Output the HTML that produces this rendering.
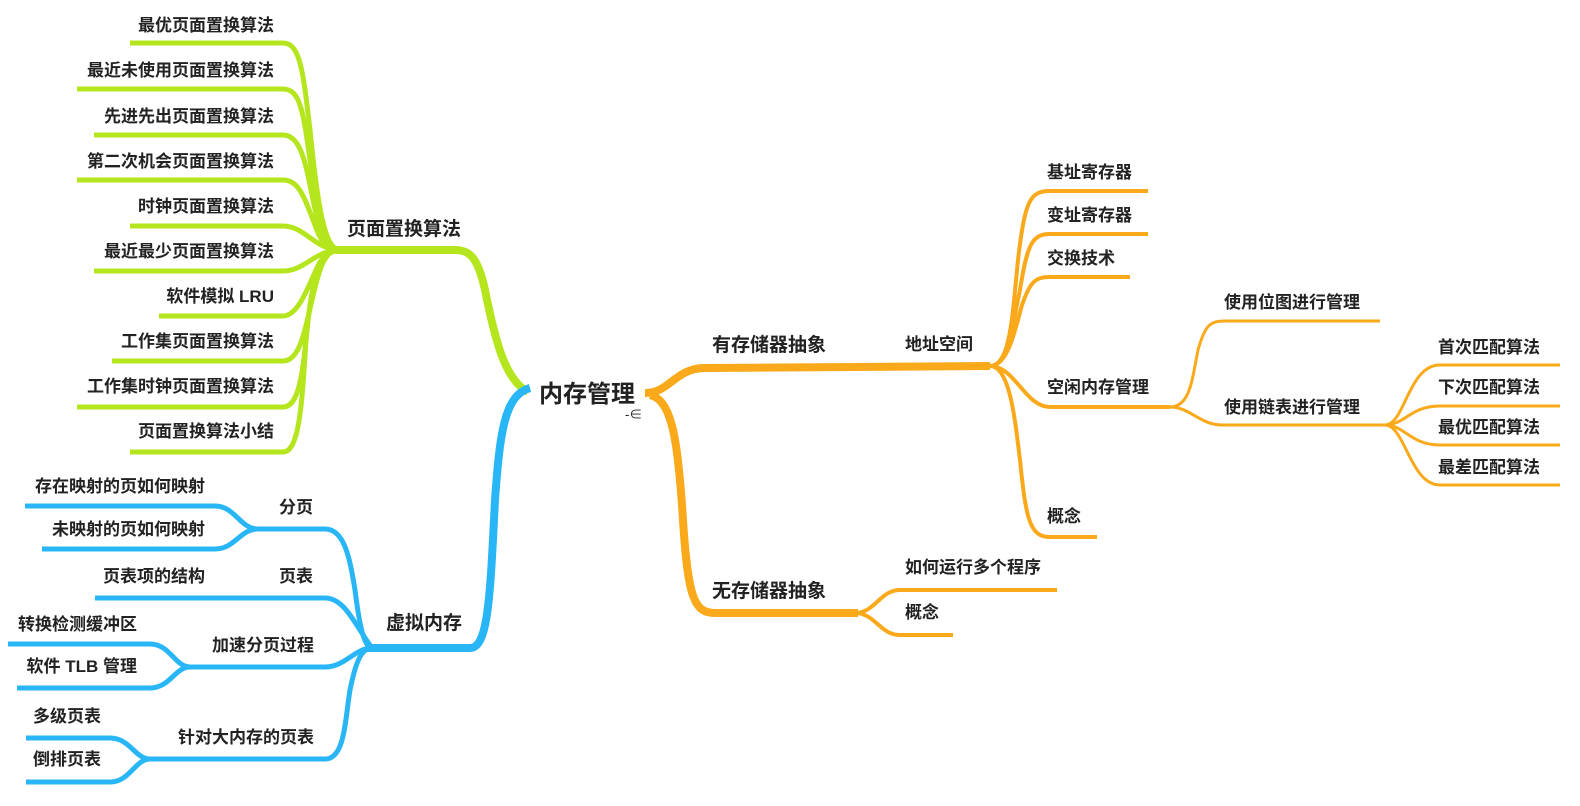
<!DOCTYPE html>
<html><head><meta charset="utf-8"><style>
html,body{margin:0;padding:0;background:#fff;}
svg{display:block}
text{font-family:"Liberation Sans","Noto Sans CJK SC",sans-serif;font-weight:bold;font-size:17px;fill:#222;}
</style></head><body>
<svg width="1580" height="806" viewBox="0 0 1580 806" xmlns="http://www.w3.org/2000/svg">
<g fill="none" stroke-linecap="butt">
<!-- green -->
<g stroke="#B5E61D">
<path d="M528,392 C505,380 495,340 485,290 C478,258 470,250 455,250 L335,250" stroke-width="8"/>
<g stroke-width="5">
<path d="M130,43 L283,43 C300,43 303,70 310,130 C318,210 325,250 340,250"/>
<path d="M77,89 L283,89 C300,89 303,110 310,160 C318,220 325,250 340,250"/>
<path d="M94,135 L283,135 C300,135 305,160 312,195 C320,235 325,250 340,250"/>
<path d="M77,180 L283,180 C300,180 305,200 315,225 C322,245 328,250 340,250"/>
<path d="M130,226 L283,226 C305,226 315,250 340,250"/>
<path d="M94,271 L283,271 C305,271 315,250 340,250"/>
<path d="M159,316 L283,316 C300,316 310,280 320,262 C328,252 332,250 340,250"/>
<path d="M112,361 L283,361 C300,361 305,330 312,300 C320,265 325,250 340,250"/>
<path d="M77,407 L283,407 C300,407 303,370 308,320 C314,270 322,250 340,250"/>
<path d="M130,452 L283,452 C300,452 302,400 306,340 C312,275 320,250 340,250"/>
</g>
</g>
<!-- blue -->
<g stroke="#29B6F6">
<path d="M530,388 C505,395 500,430 495,500 C490,600 488,648 470,648 L365,648" stroke-width="8"/>
<g stroke-width="5">
<path d="M258,529 L325,529 C345,529 350,560 355,590 C360,630 365,648 372,648"/>
<path d="M95,598 L325,598 C345,598 355,625 372,648"/>
<path d="M190,667 L325,667 C345,667 355,648 372,648"/>
<path d="M150,759 L325,759 C345,759 345,720 350,690 C356,660 362,648 372,648"/>
<path d="M25,506 L215,506 C235,506 240,529 258,529 C240,529 235,549 215,549 L42,549"/>
<path d="M8,644 L150,644 C170,644 175,667 190,667 C175,667 170,688 150,688 L17,688"/>
<path d="M26,738 L110,738 C130,738 135,759 150,759 C135,759 130,782 110,782 L26,782"/>
</g>
</g>
<!-- orange -->
<g stroke="#F9A91A">
<path d="M645,393 C670,393 675,368 705,368 L990,366" stroke-width="8"/>
<path d="M650,395 C672,400 678,440 683,520 C688,600 695,613 715,613 L858,613" stroke-width="8"/>
<g stroke-width="4">
<path d="M990,366 C1010,366 1012,320 1018,260 C1025,200 1030,191 1050,191 L1148,191"/>
<path d="M990,366 C1010,366 1013,320 1020,290 C1027,245 1032,234 1050,234 L1148,234"/>
<path d="M990,366 C1008,366 1015,330 1022,305 C1030,282 1035,277 1050,277 L1130,277"/>
<path d="M990,366 C1015,366 1025,407 1050,407 L1170,407"/>
<path d="M990,366 C1010,366 1015,420 1020,460 C1026,520 1030,537 1050,537 L1097,537"/>
<path d="M855,613 C875,613 880,590 900,590 L1057,590"/>
<path d="M855,613 C875,613 880,635 900,635 L953,635"/>
<path d="M1170,407 C1190,407 1192,380 1198,350 C1205,325 1210,321 1225,321 L1380,321" stroke-width="3"/>
<path d="M1170,407 C1190,407 1200,425 1222,425 L1385,425" stroke-width="3"/>
<path d="M1385,425 C1405,425 1408,365 1440,365 L1560,365" stroke-width="3"/>
<path d="M1385,425 C1405,425 1410,406 1440,406 L1560,406" stroke-width="3"/>
<path d="M1385,425 C1405,425 1410,445 1440,445 L1560,445" stroke-width="3"/>
<path d="M1385,425 C1405,425 1410,485 1440,485 L1560,485" stroke-width="3"/>
</g>
</g>
</g>
<g>
<text x="539" y="402" style="font-size:24px">内存管理</text>
<text x="625" y="419" style="font-size:13px;font-weight:normal">-∈</text>
<g text-anchor="end">
<text x="274" y="31">最优页面置换算法</text>
<text x="274" y="76">最近未使用页面置换算法</text>
<text x="274" y="122">先进先出页面置换算法</text>
<text x="274" y="167">第二次机会页面置换算法</text>
<text x="274" y="212">时钟页面置换算法</text>
<text x="274" y="257">最近最少页面置换算法</text>
<text x="274" y="302">软件模拟 LRU</text>
<text x="274" y="347">工作集页面置换算法</text>
<text x="274" y="392">工作集时钟页面置换算法</text>
<text x="274" y="437">页面置换算法小结</text>
<text x="205" y="492">存在映射的页如何映射</text>
<text x="205" y="535">未映射的页如何映射</text>
<text x="313" y="513">分页</text>
<text x="313" y="582">页表</text>
<text x="205" y="582">页表项的结构</text>
<text x="314" y="651">加速分页过程</text>
<text x="137" y="630">转换检测缓冲区</text>
<text x="137" y="672">软件 TLB 管理</text>
<text x="101" y="722">多级页表</text>
<text x="101" y="765">倒排页表</text>
<text x="314" y="743">针对大内存的页表</text>
</g>
<text x="347" y="235" style="font-size:19px">页面置换算法</text>
<text x="386" y="629" style="font-size:19px">虚拟内存</text>
<text x="712" y="351" style="font-size:19px">有存储器抽象</text>
<text x="712" y="597" style="font-size:19px">无存储器抽象</text>
<text x="905" y="350">地址空间</text>
<text x="1047" y="178">基址寄存器</text>
<text x="1047" y="221">变址寄存器</text>
<text x="1047" y="264">交换技术</text>
<text x="1047" y="393">空闲内存管理</text>
<text x="1047" y="522">概念</text>
<text x="905" y="573">如何运行多个程序</text>
<text x="905" y="618">概念</text>
<text x="1224" y="308">使用位图进行管理</text>
<text x="1224" y="413">使用链表进行管理</text>
<text x="1438" y="353">首次匹配算法</text>
<text x="1438" y="393">下次匹配算法</text>
<text x="1438" y="433">最优匹配算法</text>
<text x="1438" y="473">最差匹配算法</text>
</g>
</svg>
</body></html>
